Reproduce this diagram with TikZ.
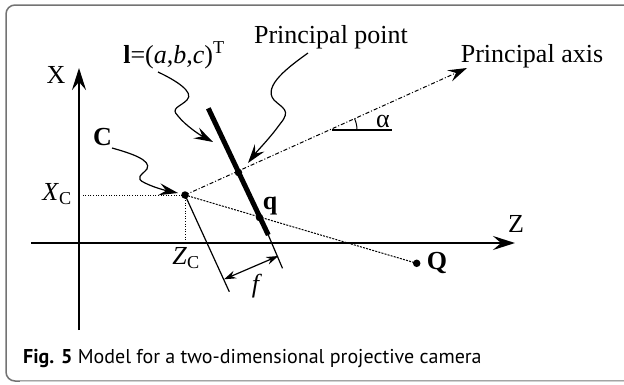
\documentclass[tikz,border=0pt]{standalone}
\usepackage{fontspec}
\setmainfont{Liberation Serif}
\newfontfamily\capfont{PT Sans}
\usetikzlibrary{arrows.meta}
\begin{document}
\begin{tikzpicture}[x=1pt,y=-1pt,
  lbl/.style={inner sep=0pt, font=\fontsize{26}{30}\selectfont},
  axisline/.style={line width=2.4pt, -{Stealth[length=22pt,width=14pt,inset=8pt]}},
  dotn/.style={circle, fill=black, inner sep=0pt, minimum size=7.5pt},
  curly/.style={line width=1.2pt, -{Stealth[length=19pt,width=12pt,inset=7pt]}},
  guide/.style={line width=1.2pt},
  dotline/.style={line width=1pt, dash pattern=on 1pt off 1.6pt},
]
\useasboundingbox (0,0) rectangle (624,384);
% frame
\draw[line width=1.5pt, draw=black!55, rounded corners=9pt] (640,5) -- (6,5) -- (6,381) -- (640,381);
\draw[line width=1.2pt, draw=black!18] (20,381.5) -- (640,381.5);

% points
\coordinate (Xbot) at (79,330);
\coordinate (Xtop) at (79,68);
\coordinate (Zl) at (31,243);
\coordinate (Zr) at (515,243);
\coordinate (XCend) at (81,195);
\coordinate (ZCend) at (185,243);
\coordinate (L1) at (208.3,108.3);
\coordinate (L2) at (268.3,235);
\coordinate (PAtip) at (467,68);
\coordinate (F1) at (229.3,291.7);
\coordinate (F2a) at (267,232);
\coordinate (F2) at (282.5,268.3);
\coordinate (FA) at (224,279.3);
\coordinate (FB) at (278.3,256);
\coordinate (Al) at (331.7,130);
\coordinate (Ar) at (391.7,130);

% axes
\draw[axisline] (Xbot) -- (Xtop);
\draw[axisline] (Zl) -- (Zr);

% image line
\draw[line width=5pt] (L1) -- (L2);

\node[dotn] (C) at (185,195) {};
\node[dotn] (pp) at (238.5,172.5) {};
\node[dotn] (q) at (259.5,217.5) {};
\node[dotn] (Q) at (416.7,263.3) {};

% dotted projections
\draw[dotline] (C.center) -- (XCend);
\draw[dotline] (C.center) -- (ZCend);

% principal axis
\draw[line width=1pt, dash pattern=on 4pt off 2pt on 1pt off 2pt,
      -{Stealth[length=19pt,width=12pt,inset=7pt]}] (C.center) -- (PAtip);
% ray to Q
\draw[line width=1pt, dash pattern=on 2pt off 1.2pt] (C.center) -- (Q.center);

% focal length
\draw[guide] (C.center) -- (F1);
\draw[guide] (F2a) -- (F2);
\draw[guide, {Stealth[length=12pt,width=8pt,inset=4pt]}-{Stealth[length=12pt,width=8pt,inset=4pt]}] (FA) -- (FB);

% alpha
\draw[line width=2pt] (Al) -- (Ar);
\draw[line width=1pt] (357,130) arc[start angle=0, end angle=-24, radius=28];

% labels
\node[lbl] (lX) at (56,75) {X};
\node[lbl] (lZ) at (516,224) {Z};
\node[lbl] (lXC) at (57,194) {\textit{X}\textsubscript{C}};
\node[lbl] (lZC) at (186,258) {\textit{Z}\textsubscript{C}};
\node[lbl] (lC) at (102.5,137.5) {\textbf{C}};
\node[lbl] (lq) at (270,206) {\textbf{q}};
\node[lbl] (lQ) at (437,263) {\textbf{Q}};
\node[lbl] (lf) at (257,286) {\textit{f}};
\node[lbl] (la) at (383,121) {α};
\node[lbl, anchor=base] (ll) at (174,63) {\textbf{l}=(\textit{a},\textit{b},\textit{c})\textsuperscript{T}};
\node[lbl, anchor=base] (lpp) at (331,43) {Principal point};
\node[lbl, anchor=base] (lpa) at (532,62) {Principal axis};

% curly pointers
\coordinate (s1) at (158,72);
\coordinate (t1) at (213,142);
\coordinate (s2) at (308,53);
\coordinate (t2) at (248,163);
\coordinate (s3) at (112,148);
\coordinate (t3) at (178,193);
\draw[curly] (s1) .. controls (175,80) and (195,92) .. (187,100)
  .. controls (180,107) and (170,108) .. (178,116)
  .. controls (186,126) and (200,135) .. (t1);
\draw[curly] (s2) .. controls (290,66) and (262,86) .. (274,100)
  .. controls (282,108) and (292,110) .. (280,124)
  .. controls (270,138) and (258,150) .. (t2);
\draw[curly] (s3) .. controls (130,153) and (152,160) .. (147,169)
  .. controls (142,175) and (134,178) .. (145,183)
  .. controls (155,188) and (168,191) .. (t3);

% caption
\node[anchor=base west, inner sep=0pt, font=\capfont\fontsize{20}{24}\selectfont] (cap) at (23,363)
  {\textbf{Fig. 5} Model for a two-dimensional projective camera};
\end{tikzpicture}
\end{document}
